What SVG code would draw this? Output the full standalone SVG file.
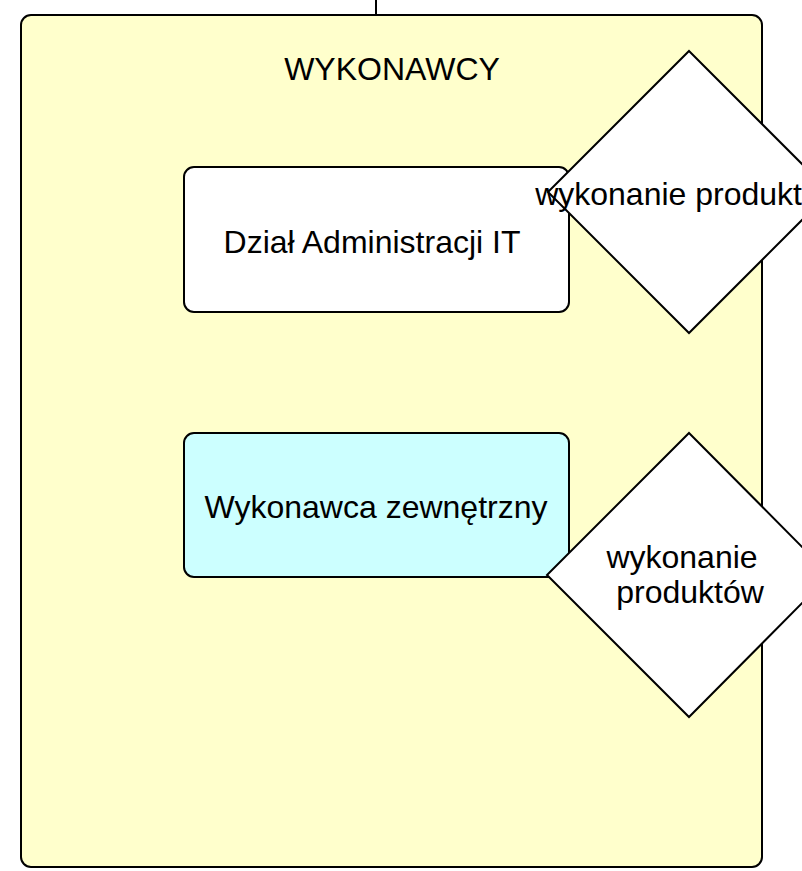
<svg xmlns="http://www.w3.org/2000/svg" width="802" height="871" viewBox="0 0 802 871">
<style>
.box{stroke:#000;stroke-width:2}
.t{font-family:"Liberation Sans",Arial,sans-serif;font-size:32px;fill:#000;text-anchor:middle}
.conn{stroke:#000;stroke-width:2;fill:none}
</style>
<rect width="802" height="871" fill="#fff"/>
<g id="connectors">
<line class="conn" x1="376" y1="0" x2="376" y2="15"/>
</g>
<g id="wykonawcy">
<rect class="box" x="21" y="15" width="741" height="852" rx="10" fill="#FFFFCC"/>
<text class="t" x="392" y="80">WYKONAWCY</text>
</g>
<g id="dzial-it">
<rect class="box" x="184" y="167" width="385" height="145" rx="10" fill="#FFFFFF"/>
<text class="t" x="372" y="253">Dział Administracji IT</text>
</g>
<g id="wykonawca-zewnetrzny">
<rect class="box" x="184" y="433" width="385" height="144" rx="10" fill="#CCFFFF"/>
<text class="t" x="376" y="518">Wykonawca zewnętrzny</text>
</g>
<g id="decision-1">
<polygon class="box" points="689,51 830,192 689,333 548,192" fill="#FFFFFF"/>
<text class="t" x="689" y="205">wykonanie produktów</text>
</g>
<g id="decision-2">
<polygon class="box" points="689,433 830,575 689,717 547,575" fill="#FFFFFF"/>
<text class="t" x="682" y="568">wykonanie</text>
<text class="t" x="690" y="603">produktów</text>
</g>
</svg>
